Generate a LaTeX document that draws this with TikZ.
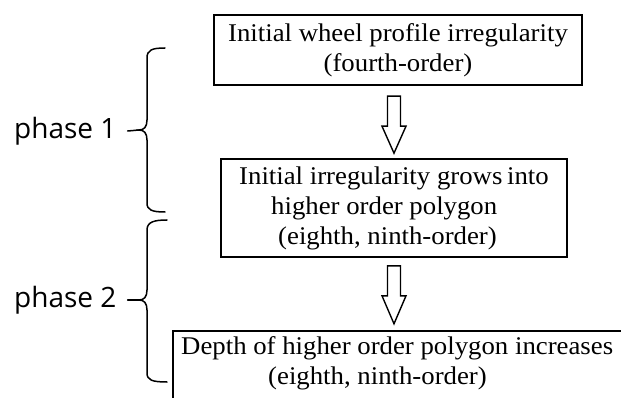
\documentclass[tikz,border=0pt]{standalone}
\usepackage{fontspec}
\setmainfont{Liberation Serif}[FakeStretch=1.05]
\newfontfamily\phasefont{Open Sans}
\usetikzlibrary{calc}
\tikzset{
  box/.style={draw=black, line width=1.6pt, fill=white, inner sep=0pt,
    font=\fontsize{25.5}{30}\selectfont},
  boxtext/.style={inner sep=0pt, align=left, font=\fontsize{25.5}{30}\selectfont},
  blockarrow/.style={draw=black, line width=1.4pt, fill=white, line join=miter},
  bracepath/.style={draw=black, line width=1.5pt, line cap=round},
  phaselabel/.style={inner sep=0pt, font=\phasefont\fontsize{28}{30}\selectfont}
}
\begin{document}
\begin{tikzpicture}[x=1pt, y=-1pt]
\path[use as bounding box, fill=white] (0,0) rectangle (621,398);

% boxes
\node[box, minimum width=368pt, minimum height=70pt, align=center] (b1) at (398,50)
  {Initial wheel profile irregularity\\(fourth-order)};
\node[box, minimum width=346pt, minimum height=98pt, align=left] (b2) at (394,208)
  {Initial irregularity grows\hspace{-2pt} into\\
   \hspace{32pt}higher order polygon\\
   \hspace{39pt}(eighth, ninth-order)};
\node[box, anchor=north west, minimum width=470pt, minimum height=90pt] (b3) at (172,330) {};
\node[boxtext, anchor=north west] (t3) at (181,336)
  {Depth of higher order polygon increases\\
   \hspace{87pt}(eighth, ninth-order)};

% block arrows
\begin{scope}[shift={(b2.north)}]
  \draw[blockarrow] (-6.5,-62) -- (6.5,-62) -- (6.5,-32) -- (12,-32) -- (0,-5)
    -- (-12,-32) -- (-6.5,-32) -- cycle;
\end{scope}
\begin{scope}[shift={(b2.south)}]
  \draw[blockarrow] (-6.5,8) -- (6.5,8) -- (6.5,38) -- (12,38) -- (0,66)
    -- (-12,38) -- (-6.5,38) -- cycle;
\end{scope}

% phase labels
\node[phaselabel, anchor=west] (p1) at (14,131) {phase 1};
\node[phaselabel, anchor=west] (p2) at (14,300) {phase 2};

% braces
\coordinate (c1) at (139,130);
\coordinate (c2) at (139,300);
\draw[bracepath] (165,48) .. controls (152,48) and (147,50) .. (147,58) -- (147,120)
  .. controls (147,127) and (144,130) .. (c1)
  .. controls (144,130) and (147,133) .. (147,140) -- (147,203)
  .. controls (147,210) and (152,212) .. (165,212);
\draw[bracepath] (p1.east) ++(11,0) coordinate (d1) -- (c1);
\draw[bracepath] (167,220) .. controls (154,220) and (147,222) .. (147,230) -- (147,290)
  .. controls (147,297) and (144,300) .. (c2)
  .. controls (144,300) and (147,303) .. (147,310) -- (147,373)
  .. controls (147,380) and (152,382) .. (167,382);
\draw[bracepath] (p2.east) ++(11,0) coordinate (d2) -- (c2);
\end{tikzpicture}
\end{document}
